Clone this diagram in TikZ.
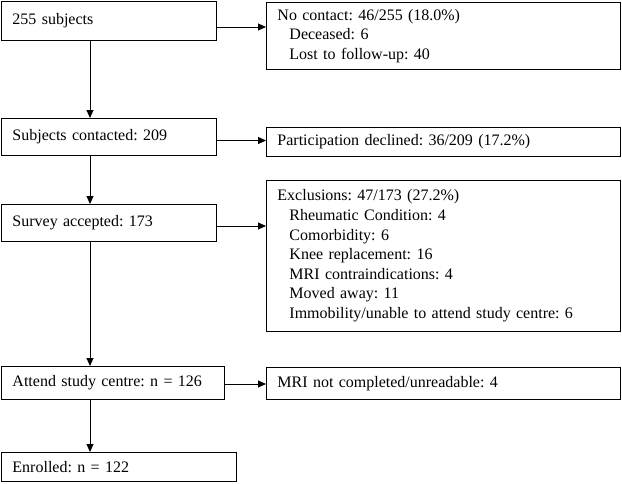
\documentclass[tikz,border=0pt]{standalone}
\usepackage{fontspec}
\setmainfont{Liberation Serif}
\usetikzlibrary{arrows.meta}
\begin{document}
\begin{tikzpicture}[x=1pt,y=-1pt,
  box/.style={draw, line width=0.9pt, anchor=north west, inner xsep=11pt, inner ysep=0pt,
    align=left, font=\fontsize{16}{19.6}\selectfont},
  arr/.style={line width=0.9pt, -{Triangle[length=8pt,width=7pt]}}]
\useasboundingbox (0,0) rectangle (622,483);
\node[box, minimum width=215pt, minimum height=39pt, text width=193pt] (B1) at (1,1) {255 subjects};
\node[box, minimum width=215pt, minimum height=37pt, text width=193pt] (B2) at (1,118) {Subjects contacted:\ 209};
\node[box, minimum width=215pt, minimum height=37pt, text width=193pt] (B3) at (1,204) {Survey accepted:\ 173};
\node[box, minimum width=223pt, minimum height=33pt, text width=201pt] (B4) at (1,366) {Attend study centre:\ n = 126};
\node[box, minimum width=235pt, minimum height=29pt, text width=213pt] (B5) at (1,452) {Enrolled:\ n = 122};
\node[box, minimum width=354pt, minimum height=67pt, text width=332pt] (R1) at (266,2) {No contact:\ 46/255 (18.0\%)\\
  \hspace*{12pt}Deceased:\ 6\\
  \hspace*{12pt}Lost to follow-up:\ 40};
\node[box, minimum width=354pt, minimum height=29pt, text width=332pt] (R2) at (266,127) {Participation declined:\ 36/209 (17.2\%)};
\node[box, minimum width=354pt, minimum height=151pt, text width=332pt] (R3) at (266,180) {Exclusions:\ 47/173 (27.2\%)\\
  \hspace*{12pt}Rheumatic Condition:\ 4\\
  \hspace*{12pt}Comorbidity:\ 6\\
  \hspace*{12pt}Knee replacement:\ 16\\
  \hspace*{12pt}MRI contraindications:\ 4\\
  \hspace*{12pt}Moved away:\ 11\\
  \hspace*{12pt}Immobility/unable to attend study centre:\ 6};
\node[box, minimum width=354pt, minimum height=32pt, text width=332pt] (R4) at (266,367) {MRI not completed/unreadable:\ 4};
\coordinate (ax) at (90,0);
\coordinate (h1) at (0,27);
\coordinate (h2) at (0,140.5);
\coordinate (h3) at (0,226);
\coordinate (h4) at (0,384);
\draw[arr] (B1.south -| ax) -- (B2.north -| ax);
\draw[arr] (B2.south -| ax) -- (B3.north -| ax);
\draw[arr] (B3.south -| ax) -- (B4.north -| ax);
\draw[arr] (B4.south -| ax) -- (B5.north -| ax);
\draw[arr] (B1.east |- h1) -- (R1.west |- h1);
\draw[arr] (B2.east |- h2) -- (R2.west |- h2);
\draw[arr] (B3.east |- h3) -- (R3.west |- h3);
\draw[arr] (B4.east |- h4) -- (R4.west |- h4);
\end{tikzpicture}
\end{document}
